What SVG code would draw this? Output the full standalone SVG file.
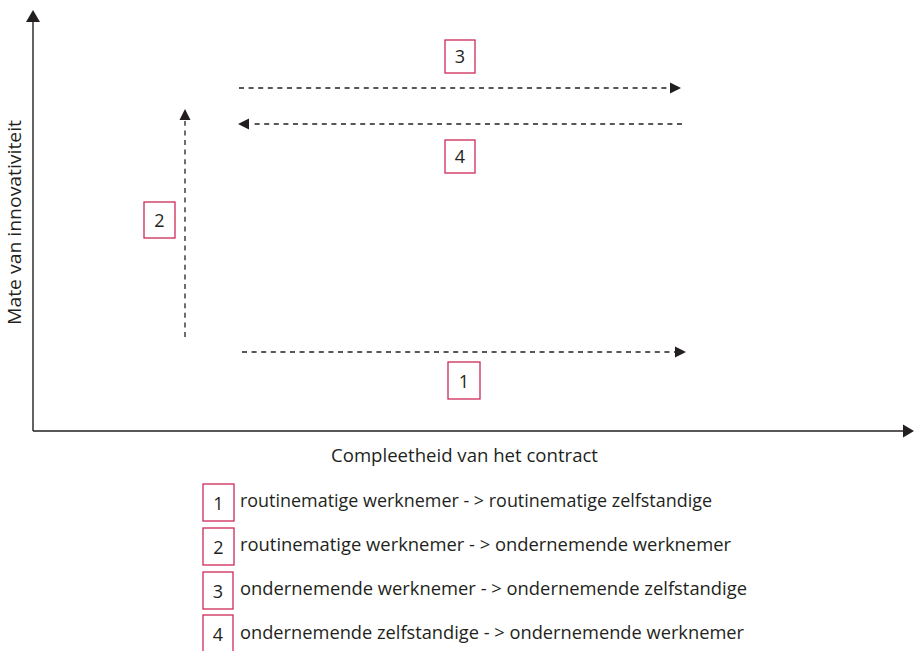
<svg xmlns="http://www.w3.org/2000/svg" width="914" height="651" viewBox="0 0 914 651">
<style>
.axis{stroke:#231f20;stroke-width:1.4;fill:none}
.dash{stroke:#231f20;stroke-width:1.3;fill:none;stroke-dasharray:5 4.6}
.box{fill:#fff;stroke:#cc2858;stroke-width:1.3}
.num{font-family:"Open Sans","Noto Sans",sans-serif;font-size:18px;fill:#231f20;text-anchor:middle}
.lbl{font-family:"Open Sans","Noto Sans",sans-serif;font-size:17.5px;fill:#231f20}
.head{fill:#231f20}
</style>
<rect width="914" height="651" fill="#fff"/>
<g id="connectors">
  <line class="axis" x1="33" y1="431" x2="33" y2="20"/>
  <polygon class="head" points="33,10 26,22 40,22"/>
  <line class="axis" x1="33" y1="431" x2="905" y2="431"/>
  <polygon class="head" points="914,431 903,424.5 903,437.5"/>
  <line class="dash" x1="239" y1="88" x2="670" y2="88"/>
  <polygon class="head" points="681,88 670,82.5 670,93.5"/>
  <line class="dash" x1="682" y1="124" x2="250" y2="124"/>
  <polygon class="head" points="238,124 249,118.5 249,129.5"/>
  <line class="dash" x1="185" y1="337" x2="185" y2="121"/>
  <polygon class="head" points="185,109 179.5,120 190.5,120"/>
  <line class="dash" x1="242" y1="352" x2="675" y2="352"/>
  <polygon class="head" points="686,352 675,346.5 675,357.5"/>
</g>
<g id="axis-labels">
  <text class="lbl" x="331" y="462" textLength="267" lengthAdjust="spacingAndGlyphs">Compleetheid van het contract</text>
  <text class="lbl" transform="translate(21,325) rotate(-90)" textLength="205" lengthAdjust="spacingAndGlyphs">Mate van innovativiteit</text>
</g>
<g id="label-3"><rect class="box" x="445" y="40" width="30" height="33"/><text class="num" x="460" y="63">3</text></g>
<g id="label-4"><rect class="box" x="445" y="140" width="30" height="33"/><text class="num" x="460" y="163">4</text></g>
<g id="label-2"><rect class="box" x="144" y="202" width="31" height="36"/><text class="num" x="159.5" y="227">2</text></g>
<g id="label-1"><rect class="box" x="448" y="362" width="32" height="37"/><text class="num" x="464" y="388">1</text></g>
<g id="legend-1"><rect class="box" x="203" y="484" width="31" height="37"/><text class="num" x="218.5" y="510">1</text><text class="lbl" x="240" y="507" textLength="472" lengthAdjust="spacingAndGlyphs">routinematige werknemer - &gt; routinematige zelfstandige</text></g>
<g id="legend-2"><rect class="box" x="203" y="528" width="31" height="37"/><text class="num" x="218.5" y="554">2</text><text class="lbl" x="240" y="551" textLength="491" lengthAdjust="spacingAndGlyphs">routinematige werknemer - &gt; ondernemende werknemer</text></g>
<g id="legend-3"><rect class="box" x="203" y="572" width="30" height="37"/><text class="num" x="218" y="598">3</text><text class="lbl" x="240" y="595" textLength="507" lengthAdjust="spacingAndGlyphs">ondernemende werknemer - &gt; ondernemende zelfstandige</text></g>
<g id="legend-4"><rect class="box" x="203" y="615" width="30" height="38"/><text class="num" x="218" y="641">4</text><text class="lbl" x="240" y="639" textLength="504" lengthAdjust="spacingAndGlyphs">ondernemende zelfstandige - &gt; ondernemende werknemer</text></g>
</svg>
